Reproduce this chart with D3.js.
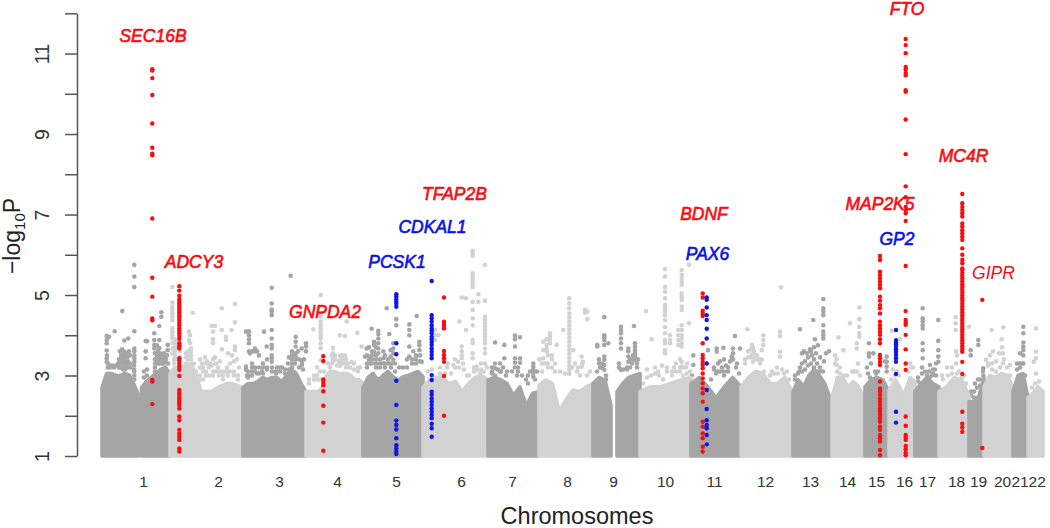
<!DOCTYPE html>
<html>
<head>
<meta charset="utf-8">
<script src="https://cdn.jsdelivr.net/npm/d3@7/dist/d3.min.js"></script>
<style>html,body{margin:0;padding:0;background:#fff;overflow:hidden}svg{display:block}text{font-family:"Liberation Sans",Arial,sans-serif}</style>
</head>
<body>
<svg id="c" width="1050" height="528"></svg>
<script>
// Genome position is in bins of roughly 3 Mb along the concatenated chromosomes.
const chromNames = ["1","2","3","4","5","6","7","8","9","10","11","12","13","14","15","16","17","18","19","20","21","22"];
const chromEnds = [68,141,204,261,321,386,437,491,538,589,639,690,729.5,762.5,787,813,837,867,882,911,926,941];
const chromLabelPos = [41,116,177,235,294,359,410,465,511,563,612,663,708,745,774,802,825,854,876,900,917.5,934.7];
const yTicks = [1,2,3,4,5,6,7,8,9,10,11,12];

// Solid lower band of each chromosome arm: upper edge readings (-log10 P)
const bandChrom = [1,1,2,3,4,5,6,7,8,9,9,10,11,12,13,14,15,16,16,17,18,19,20,21,22];
const bandStart = [0,39.5,68,141,204,261,321,386,437,491,515,538,589,639,691,730,763,787,803,813,837,867,882,911,926];
const bandEnd = [37,68,141,204,261,321,386,437,491,509,538,589,639,690,728,762,787,800,813,837,867,882,911,926,941];
const bandTops = [
 [2.7,3.05,3.05,3.0,3.0,3.05,3.0,2.75,2.5],
 [2.7,2.85,2.95,3.05,3.15,3.2,3.05],
 [3.05,3.2,3.2,3.25,3.3,3.0,2.6,2.6,2.6,2.7,2.75,2.8,2.8,2.75,2.7],
 [2.7,2.8,2.8,2.85,2.95,2.9,2.95,2.95,2.85,3.0,3.15,3.05,2.8,2.6],
 [2.6,2.6,2.6,2.6,2.7,3.0,3.1,3.1,3.05,3.05,3.05,3.0,2.9,2.9,2.8],
 [2.7,2.95,3.05,2.89,3.0,3.1,2.97,2.89,2.97,3.0,3.05,3.1,2.97],
 [2.7,2.89,2.95,2.95,2.8,2.85,2.6,2.8,2.95,3.0,2.89],
 [2.89,2.95,2.89,2.8,2.5,2.72,2.25,2.56,2.6],
 [2.75,2.89,2.8,2.1,2.4,2.64,2.6,2.72,2.8],
 [2.8,2.95,2.89,2.25],
 [2.6,2.8,2.95,3.0,3.05],
 [2.6,2.72,2.72,2.8,2.89,2.95],
 [2.8,2.95,2.72,2.45,2.72,2.95,2.72],
 [2.72,2.95,3.1,3.05,2.8,2.8,2.95,2.6],
 [2.6,2.89,2.72,3.0,3.15,3.0,2.8,2.45],
 [2.45,2.95,2.95,2.72,2.85,2.72,2.45],
 [2.72,2.89,2.95,2.89,2.6],
 [2.64,2.89,2.6],
 [2.6,2.95,2.85],
 [2.6,2.8,2.95,2.8,2.72],
 [2.6,2.72,2.95,2.89,2.5],
 [2.35,2.35,2.5,2.95],
 [2.72,3.0,2.95,3.05,3.0,2.72],
 [2.6,3.0,3.05,2.45],
 [2.45,2.56,2.72,2.6]
];

// Individual background SNPs above the band: [position, -log10 P]
const backgroundSnps = [
[32.3,5.75],[32.3,5.46],[32.3,5.2],[32.3,4.1],[32.3,3.67],[32.3,3.6],[32.3,3.5],[32.3,3.43],[32.3,3.34],[32.3,3.1],[32.3,3.0],[32.3,2.9],
[20.3,4.6],[12.7,4.1],[4.7,3.98],[4.7,3.88],[4.7,3.8],[4.7,3.62],[4.7,3.43],[4.7,3.34],[7,3.96],[26.3,3.92],[22.3,3.87],
[18,3.6],[20,3.65],[22,3.6],[24,3.55],[25,3.45],[26,3.35],[14,3.25],[16,3.3],[12,3.2],[10,3.25],[27,3.6],
[43.7,3.86],[43.7,3.6],[43.7,3.43],[45,3.85],[52.3,4.05],[52.3,3.88],[52.3,3.76],[52.3,3.67],[57.3,4.23],[57.3,3.88],[57.3,3.68],[57.3,3.47],[57.3,3.3],
[59.3,4.57],[59.3,4.46],[65.7,3.76],[65.7,3.63],[55,3.75],[56,3.6],[58,3.55],[60,3.4],[62,3.45],[63,3.35],[65,3.5],[66,3.3],
[70.3,5.2],[70.3,4.81],[70.3,4.7],[70.3,4.63],[70.3,4.55],[70.3,4.46],[70.3,4.38],[70.3,4.17],[70.3,4.09],[70.3,4.0],[70.3,3.92],[70.3,3.8],[70.3,3.67],[70.3,3.55],
[73,3.9],[73,3.8],[73,3.7],[73,3.6],[73,3.5],[87,4.09],[88,4.0],[87,3.88],[88,3.8],[89,3.67],[90.7,4.56],
[109.7,4.23],[113,4.23],[111,4.09],[111,3.9],[111,3.8],[119.7,4.67],[119.7,4.13],[124,3.96],[124,3.88],[133,4.78],[133,4.32],[133,3.72],[133,3.63],[129.7,4.13],
[98,3.4],[100,3.3],[103,3.45],[105,3.35],[108,3.3],[110,3.25],[113,3.45],[116,3.2],[118,3.35],[120,3.1],[123,3.1],[126,3.0],[130,3.5],[132,3.35],[135,3.4],[137,3.2],[126,3.55],[120,3.65],
[147,4.1],[147,4.0],[147,3.9],[147,3.8],[147,3.6],[148,3.55],[153,3.67],[153,3.6],[150,3.6],[155,3.6],[157,3.5],[144,4.09],[144,3.22],[144,3.14],[145,3.0],
[169.7,5.18],[169.7,4.79],[169.7,4.64],[169.7,4.59],[169.7,4.5],[169.7,4.13],[169.7,3.92],[169.7,3.76],[169.7,3.67],[169.7,3.5],[169.7,3.43],[169.7,3.34],
[162,4.09],[164.7,3.72],[188.7,5.48],[193.7,3.96],[193.7,3.84],[193.7,3.72],[193.7,3.55],[193.7,3.47],[204,3.8],[204,3.72],[204,3.6],[199.7,3.67],[199.7,3.38],[199.7,3.25],
[175,3.2],[178,3.1],[180,3.2],[183,3.15],[186,3.3],[190,3.4],[196,3.6],[200,3.3],[202,3.4],[160,3.1],[165,3.15],[150,3.0],[155,3.05],
[218.7,5.0],[218.7,4.54],[218.7,4.46],[218.7,4.34],[218.7,4.25],[218.7,4.17],[218.7,4.09],[218.7,4.0],[218.7,3.92],[218.7,3.8],[218.7,3.68],[218.7,3.38],
[211.3,4.15],[244.7,4.34],[238,4.0],[243,3.98],[231,3.68],[231,3.55],[231,3.43],[231,3.35],[238,3.5],[238,3.38],[238,3.25],[243,3.5],[243,3.3],
[255.3,4.06],[259.7,3.72],[249.7,3.34],[258,3.2],[252,3.3],[225,2.9],[228,3.2],[222,3.1],[235,3.25],[240,3.3],[246,3.3],
[284.7,4.67],[269.7,4.16],[276.3,4.11],[276.3,4.03],[276.3,3.92],[276.3,3.8],[276.3,3.67],[276.3,3.55],[287.3,4.03],[264.7,3.67],[272,3.84],[272,3.76],[272,3.59],[281.3,3.6],[281.3,3.43],[281.3,3.3],
[294.3,4.4],[294.3,4.25],[307.3,4.27],[307.3,4.13],[307.3,4.0],[314.7,4.48],[317.3,3.84],[317.3,3.75],[317.3,3.63],[307.3,3.72],[307.3,3.47],[311.3,3.6],[319.7,3.34],
[291.3,3.8],[291.3,3.67],[291.3,3.55],[291.3,3.39],[288.7,3.63],[288.7,3.47],[268,3.47],[268,3.3],[263,3.47],
[333,4.13],[333,4.0],[333,3.88],[336.3,4.0],[359.7,4.94],[364,4.92],[364,4.13],[357.3,4.34],
[370.7,6.1],[370.7,6.04],[370.7,5.97],[370.7,5.54],[370.7,5.46],[370.7,5.37],[370.7,5.29],[370.7,5.2],[370.7,4.83],[370.7,4.63],[370.7,4.42],[370.7,4.25],[370.7,3.88],[370.7,3.8],[370.7,3.55],[370.7,3.43],
[376.3,5.02],[376.3,4.83],[383,5.75],[383,4.86],[383,4.46],[383,4.38],[383,4.3],[383,4.21],[383,4.13],[383,4.05],[383,3.96],[383,3.88],[383,3.8],[383,3.67],[383,3.55],[383,3.3],
[359.7,3.72],[359.7,3.6],[359.7,3.5],[359.7,3.43],[351.3,3.26],[356,3.34],[374.7,3.22],[374.7,3.14],[345,3.2],[349,3.05],[362,3.15],[367,3.0],[378,3.05],[382,3.1],
[393,3.82],[393,3.3],[393,3.18],[402.3,3.76],[402.3,3.43],[413,3.99],[413,3.9],[413,3.72],[413,3.43],[413,3.32],[418,3.95],[418,3.43],[418,3.32],
[431.3,3.3],[431.3,3.22],[431.3,3.14],[431.3,3.05],[431.3,2.97],[437.3,3.4],[396,3.15],[399,3.1],[404,3.0],[415,3.0],[420,3.0],
[448,4.05],[448,3.96],[448,3.88],[448,3.8],[444.7,3.9],[444.7,3.76],[444.7,3.67],[444.7,3.6],[441.3,3.84],[441.3,3.63],[441.3,3.43],[454.7,3.76],[461.3,4.13],
[467.3,4.92],[467.3,4.79],[467.3,4.67],[467.3,4.54],[467.3,4.44],[467.3,4.34],[467.3,4.24],[467.3,4.14],[467.3,4.04],[467.3,3.94],[467.3,3.84],[467.3,3.74],[467.3,3.64],[467.3,3.54],[467.3,3.44],[467.3,3.34],[467.3,3.24],[467.3,3.14],[467.3,3.04],
[483,4.63],[483,4.56],[485.3,4.59],[485.3,4.4],[479.7,3.47],[479.7,3.22],[481,3.34],[471.3,3.63],[476,3.2],[480,3.3],[488,3.1],[473,3.3],
[502.3,4.45],[502.3,4.0],[502.3,3.95],[502.3,3.88],[502.3,3.76],[502.3,3.47],[502.3,3.39],[502.3,3.26],[502.3,3.14],[495.3,3.76],[495.3,3.72],[506.3,3.8],[498,3.2],[495,3.1],
[519,4.21],[519,4.13],[519,4.05],[519,3.92],[519,3.8],[519,3.67],[519,3.14],[532,4.23],[533,3.8],[533,3.72],[533,3.63],[533,3.55],[533,3.47],[533,3.39],[526.3,3.67],[526.3,3.6],[526.3,3.47],[526.3,3.34],[530,3.3],
[544,4.6],[549.7,3.9],[563,5.64],[563,5.46],[563,5.2],[563,5.08],[563,4.92],[563,4.75],[563,4.67],[563,4.59],[563,4.5],[563,4.38],[563,4.2],[563,4.05],[563,3.88],[563,3.8],[563,3.63],[563,3.55],
[568,4.0],[568,3.88],[568,3.8],[579.7,5.62],[579.7,5.5],[579.7,5.41],[579.7,5.33],[579.7,5.25],[579.7,5.04],[579.7,4.96],[579.7,4.88],[579.7,4.71],[579.7,4.63],[579.7,4.25],[579.7,4.13],[579.7,4.0],[579.7,3.92],[579.7,3.8],[579.7,3.72],[579.7,3.34],[579.7,3.22],
[576.3,4.13],[576.3,4.0],[576.3,3.88],[576.3,3.76],[587,5.75],[587,4.3],[591.3,3.5],[591.3,3.26],[545,3.15],[556,3.1],[560,3.25],[572,3.2],[584,3.2],[590,3.0],
[614.7,3.67],[614.7,3.59],[621.3,3.69],[633,3.98],[638,3.67],[631,3.67],[631,3.55],[629.7,3.47],[606,3.63],[612,3.2],[616,3.3],[620,3.2],[624,3.25],[628,3.35],[631,3.4],[635,3.3],[614,3.05],[609,2.9],
[679,5.19],[645.3,4.15],[661.3,4.0],[661.3,3.88],[661.3,3.76],[678,4.09],[678,3.98],[678,3.59],[678,3.47],[650,3.76],[651,3.68],[652,3.6],[650,3.52],[653,3.43],[651,3.34],[659.7,3.63],[659.7,3.39],[675,3.2],[670,3.1],[680,3.15],[685,3.1],
[698,4.15],[711.3,4.38],[721.3,4.9],[721.3,4.67],[721.3,4.59],[721.3,4.5],[721.3,4.25],[721.3,4.09],[721.3,4.0],[721.3,3.92],
[713,3.9],[712,3.7],[710,3.5],[714,3.55],[716,3.75],[718,3.45],[708,3.65],[705,3.55],[700,3.55],[702,3.6],[698,3.2],[696,3.05],[722,3.35],[724,3.55],[727,3.6],
[736.3,3.95],[748,4.3],[757.3,4.69],[757.3,4.4],[757.3,4.21],[757.3,4.05],[757.3,3.96],[741.3,3.63],[754.7,3.8],[754.7,3.67],[734.7,3.4],[734.7,3.26],[750,3.1],[756,3.3],[745,3.0],
[767,3.8],[767,3.55],[767,3.47],[771.3,3.55],[765,3.2],[769,3.3],[773,3.1],[783,3.35],[784.7,3.47],[784.7,3.34],[784.7,3.22],[784.7,3.1],
[789.7,4.11],[798,3.9],[791,3.15],[795,3.1],[797,3.0],[811,3.2],[808,3.3],
[820.7,4.67],[820.7,4.42],[820.7,4.34],[820.7,4.25],[820.7,4.17],[820.7,3.8],[820.7,3.63],[820.7,3.43],[836.3,4.38],[836.3,3.86],[836.3,3.63],[836.3,3.47],[836.3,3.34],[828,3.26],[828,2.97],[825,3.0],[830,3.0],[833,3.15],
[853.7,4.45],[853.7,4.3],[853.7,4.13],[854,3.6],[855,3.5],[854,3.3],[855,3.05],[845,3.2],[850,3.2],[840,3.0],[862,3.0],[867,4.21],
[876.3,3.88],[876.3,3.76],[868.7,3.63],[868.7,3.5],[884,3.39],[881.3,3.18],[881.3,3.0],[873,2.8],[876,2.9],
[889.7,4.13],[901.3,4.2],[899.7,3.9],[888,3.5],[891,3.6],[894,3.35],[897,3.55],[900,3.7],[902,3.4],[908,3.26],
[921.3,4.21],[921.3,4.05],[921.3,3.82],[921.3,3.72],[921.3,3.63],[921.3,3.5],[921.3,3.3],[918,3.55],
[934,4.17],[934,3.59],[934,3.43],[934,3.05],[931.7,3.34]
];

// Denser clumps just above the band, by position: [position, -log10 P values]
const edgeClumps = [
[5,[3.5]],[6,[3.3,3.2]],[8,[3.2]],[17,[3.4,3.3,3.2]],[19,[3.5,3.4,3.3,3.2]],[21,[3.5,3.4,3.3,3.15]],[23,[3.45,3.35,3.25,3.15]],[25,[3.3,3.2]],[28,[3.5,3.3,3.2]],[32,[3.25,3.15]],
[42,[3.1,2.95]],[45,[3.15,3.0]],[53,[3.55,3.4,3.3,3.2,3.1]],[55,[3.5,3.4,3.3]],[58,[3.4,3.3]],[60,[3.5,3.3]],[62,[3.55,3.3]],[64,[3.4]],
[72,[3.4,3.3]],[75,[3.8,3.7,3.4]],[78,[3.75,3.6,3.45]],[84,[3.55,3.45,3.3]],[86,[3.6,3.5,3.4]],[89,[3.6,3.5,3.4]],[92,[3.3]],[94,[3.1,3.0,2.9]],[98,[3.2,3.0,2.9]],[101,[3.2,3.1,2.9]],[104,[3.3,3.1,3.0]],[107,[3.2,3.0]],[111,[3.4,3.1,3.0]],[114,[3.3,3.1]],[117,[3.1,3.0]],[121,[3.0,2.9]],[125,[3.2,3.1]],[128,[3.3,3.1]],[132,[3.1,3.0]],[136,[3.0,2.9]],
[146,[3.1,3.0,2.95]],[150,[3.3,3.2,3.1]],[153,[3.2,3.1]],[157,[3.2,3.05]],[161,[3.3,3.2,3.05]],[165,[3.4,3.2]],[170,[3.2,3.1]],[174,[3.1,3.05]],[178,[3.2]],[183,[3.05]],[187,[3.45,3.15]],[190,[3.6,3.5,3.3,3.2]],[193,[3.4,3.3]],[197,[3.4,3.2]],[201,[3.15]],
[207,[2.9,2.8]],[212,[3.0,2.9]],[215,[3.2,3.0,2.9]],[218,[3.1,2.9]],[226,[3.3,3.0]],[230,[3.3,3.5]],[233,[3.5,3.4]],[237,[3.35,3.25]],[240,[3.5,3.4]],[244,[3.4,3.2]],[248,[3.2]],[252,[3.15]],[256,[3.2,3.1]],
[265,[3.5,3.3,3.2]],[267,[3.7,3.4]],[270,[3.6,3.5,3.4,3.3]],[274,[3.7,3.5,3.4,3.3,3.2]],[278,[3.4,3.3,3.2]],[283,[3.5,3.3,3.2]],[286,[3.4,3.3]],[289,[3.3,3.2]],[293,[3.3,3.1]],[297,[3.2]],[301,[3.2]],[305,[3.4,3.2]],[310,[3.4,3.3]],[314,[3.5,3.4,3.3]],[318,[3.5,3.35]],
[326,[3.1]],[330,[3.15]],[338,[3.2,3.05]],[343,[3.05]],[346,[3.3]],[353,[3.4,3.2]],[357,[3.2]],[361,[3.3]],[365,[3.0]],[372,[3.1,3.2]],[379,[3.15,3.3]],[385,[3.2]],
[390,[3.2,3.1,3.05]],[393,[3.0]],[398,[3.3,3.1]],[401,[3.2]],[405,[3.1]],[410,[3.1]],[413,[3.2]],[416,[3.2,3.1]],[424,[2.9]],[426,[3.0,2.8]],[428,[3.1]],[433,[2.9]],[435,[3.1]],
[440,[3.1,3.3]],[443,[3.3]],[446,[3.5,3.3,3.2]],[450,[3.5,3.4,3.2]],[453,[3.3,3.1]],[458,[3.1]],[463,[3.05]],[470,[3.2]],[475,[3.1]],[478,[3.0]],[485,[3.0]],
[497,[3.3,3.4]],[500,[3.3,3.2]],[504,[3.0,2.9]],[517,[3.3,3.2]],[521,[3.15]],[525,[3.2,3.15]],[528,[3.4,3.2]],[531,[3.5,3.4]],[535,[3.3,3.2]],[536,[3.4]],
[541,[2.8]],[545,[2.95]],[549,[3.0]],[553,[3.05,3.2]],[557,[3.0]],[561,[2.9]],[565,[3.2,3.1]],[570,[3.0,3.1]],[574,[3.3,3.1]],[578,[3.4,3.2,3.1]],[581,[3.2,3.0]],[585,[3.3,3.05]],[588,[3.1]],
[612,[3.15]],[615,[3.1]],[618,[3.35,3.1]],[622,[3.4,3.1,3.0]],[626,[3.2,3.1]],[630,[3.4]],[634,[3.2]],[637,[3.05]],
[643,[3.4,3.3]],[646,[3.6,3.45]],[649,[3.65,3.45]],[652,[3.55]],[655,[3.4,3.5]],[658,[3.3,3.4]],[662,[3.1]],[668,[3.0]],[672,[3.05]],[676,[3.05]],[682,[3.05]],[687,[2.9]],
[693,[3.0,2.9]],[697,[3.1]],[700,[3.3,3.1]],[703,[3.35,3.15]],[706,[3.45,3.25]],[709,[3.3,3.6]],[712,[3.4,3.2]],[715,[3.3,3.1]],[718,[3.2,3.1]],[721,[3.1]],
[733,[3.5,3.3]],[735,[3.1]],[738,[3.2,3.05]],[742,[3.0]],[752,[3.1]],[755,[3.1]],[758,[3.0]],
[766,[3.05]],[768,[2.95]],[774,[3.05]],[776,[3.1]],[789,[2.9]],[793,[3.0]],[806,[3.1]],[809,[3.2]],
[816,[2.95,2.85]],[820,[3.2,3.05]],[823,[3.1]],[827,[3.1,2.95]],[831,[3.05,3.15]],[834,[3.3,3.0]],
[841,[2.9]],[846,[3.0]],[850,[3.05]],[857,[3.1]],[860,[2.95]],[864,[2.8]],
[869,[2.6,2.5]],[872,[2.6,2.45]],[875,[2.7]],[878,[2.9,2.75]],[881,[3.1]],
[886,[3.25,3.3]],[890,[3.3,3.15]],[894,[3.1]],[898,[3.2]],[901,[3.55,3.3]],[905,[3.2]],[908,[3.0]],
[915,[3.15,3.3]],[918,[3.3,3.2]],[921,[3.3]],[923,[3.0]],[930,[2.7]],[933,[2.8]],[937,[2.85]]
];

// Highlighted gene columns: position, then -log10 P values
const sec16bPos = 50.3;
const sec16bP = [10.61,10.58,10.39,9.97,9.26,8.66,8.51,8.47,6.9,5.43,4.96,4.42,4.37,2.89,2.85,2.29];
const adcy3Pos = 77.3;
const adcy3P = [5.22,5.11,4.98,4.89,4.83,4.78,4.73,4.67,4.61,4.56,4.5,4.45,4.38,4.31,4.25,4.17,4.11,4.05,3.98,3.91,3.8,3.73,3.67,3.43,3.36,3.29,3.22,3.14,2.99,2.64,2.57,2.52,2.45,2.39,2.33,2.27,2.18,1.98,1.89,1.65,1.56,1.48,1.4,1.19,1.11];
const gnpda2Pos = 221.3;
const gnpda2P = [3.48,3.36,2.9,2.82,2.76,2.61,2.25,1.83,1.13];
const pcsk1Pos = 294.3;
const pcsk1P = [5.02,4.96,4.89,4.83,4.78,4.71,3.8,3.53,2.87,2.27,1.88,1.77,1.66,1.44,1.27,1.19,1.11,1.05];
const cdkal1Pos = 329.7;
const cdkal1P = [5.35,4.5,4.42,4.34,4.25,4.17,4.11,4.05,3.96,3.9,3.83,3.76,3.67,3.59,3.51,3.43,3.01,2.89,2.6,2.52,2.43,2.35,2.27,2.18,2.1,2.02,1.94,1.8,1.69,1.48];
const tfap2bPos = 342;
const tfap2bP = [4.94,4.34,4.28,4.23,4.17,3.61,3.51,3.43,3.34,2.99,2.0];
const bdnfPos = 600.7;
const bdnfP = [5.04,4.94,4.61,4.54,4.48,3.8,3.51,3.43,3.34,3.26,3.18,3.05,2.93,2.81,2.68,2.56,2.35,1.85,1.73,1.56,1.44,1.23,1.11];
const pax6Pos = 604.7;
const pax6P = [4.94,4.88,4.69,4.5,4.38,4.16,3.92,3.3,2.64,2.17,1.89,1.77,1.69,1.52,1.29];
const map2k5Pos = 778;
const map2k5P = [5.97,5.87,5.58,5.5,5.41,5.33,5.25,5.17,4.96,4.86,4.75,4.67,4.54,4.34,4.25,4.17,4.09,4.01,3.9,3.8,3.51,3.43,3.34,3.26,2.85,2.68,2.6,2.52,2.43,2.35,2.27,2.18,2.1,2.02,1.94,1.85,1.73,1.65,1.52,1.44,1.36,1.15,1.02];
const gp2Pos = 794;
const gp2P = [4.13,3.88,3.82,3.77,3.71,3.65,3.59,3.51,3.43,3.34,3.04,2.1,1.83];
const ftoPos = 803.7;
const ftoP = [11.36,11.21,11.01,10.67,10.61,10.52,10.46,10.09,10.05,9.36,8.5,7.7,7.43,7.19,7.09,7.03,6.84,5.72,4.6,4.38,4.31,4.26,4.01,3.65,3.3,3.14,1.98,1.75,1.52,1.46,1.4,1.25,1.17,1.08,1.02];
const mc4rPos = 860.3;
const mc4rP = [7.51,7.28,7.19,7.11,7.03,6.95,6.78,6.7,6.61,6.53,6.45,6.37,6.16,6.0,5.87,5.79,5.66,5.62,5.55,5.48,5.41,5.34,5.27,5.2,5.13,5.06,4.99,4.92,4.85,4.78,4.71,4.64,4.57,4.5,4.43,4.36,4.29,4.22,4.15,4.08,4.01,3.94,3.87,3.8,3.73,3.66,3.59,3.34,3.04,2.1,1.8,1.71,1.6];
const giprPos = 880.3;
const giprP = [4.88,1.2];

const redColumns = [[sec16bPos,sec16bP],[adcy3Pos,adcy3P],[gnpda2Pos,gnpda2P],[tfap2bPos,tfap2bP],[bdnfPos,bdnfP],[map2k5Pos,map2k5P],[ftoPos,ftoP],[mc4rPos,mc4rP],[giprPos,giprP]];
const blueColumns = [[pcsk1Pos,pcsk1P],[cdkal1Pos,cdkal1P],[pax6Pos,pax6P],[gp2Pos,gp2P]];

// Gene labels
const geneNames = ["SEC16B","ADCY3","GNPDA2","PCSK1","CDKAL1","TFAP2B","BDNF","PAX6","MAP2K5","GP2","FTO","MC4R","GIPR"];
const genePos = [51,92,223,295,330.5,352.5,602,605.5,778,795,805,861.5,891.5];
const geneLevel = [11.29,5.66,4.43,5.66,6.53,7.37,6.87,5.88,7.11,6.24,11.97,8.31,5.41];
const geneGroup = ["r","r","r","b","b","r","r","b","r","b","r","r","r"];

const RED = "#fb0a10", BLUE = "#0a14e6", DARK = "#a5a5a5", LIGHT = "#d2d2d2", AXIS = "#555555", INK = "#333333";

const svg = d3.select("#c");
const x = d3.scaleLinear().domain([0,941]).range([102,1043]);
const y = d3.scaleLinear().domain([1,12]).range([456,13.3]);

const defs = svg.append("defs");
defs.append("filter").attr("id","soft").append("feGaussianBlur").attr("stdDeviation",0.35);

const plot = svg.append("g").attr("filter","url(#soft)");
const chromOf = p => d3.bisectLeft(chromEnds, p) + 1;
const shade = n => n % 2 === 1 ? DARK : LIGHT;

const clumpSnps = edgeClumps.flatMap(c => c[1].map(v => [c[0], v]));
const allBackground = backgroundSnps.concat(clumpSnps);
plot.append("g").selectAll("circle").data(allBackground).join("circle")
  .attr("cx", d => x(d[0])).attr("cy", d => y(d[1])).attr("r", 2.3)
  .attr("fill", d => shade(chromOf(d[0])));

const area = d3.area().x(d => x(d.p)).y0(y(1)).y1(d => y(d.v));
bandTops.forEach((tops, i) => {
  const pos = d3.scaleLinear().domain([0, tops.length - 1]).range([bandStart[i], bandEnd[i]]);
  const pts = tops.map((v, k) => ({p: pos(k), v}));
  plot.append("path").datum(pts).attr("d", area)
    .attr("fill", shade(bandChrom[i])).attr("stroke", shade(bandChrom[i]))
    .attr("stroke-width", 3.6).attr("stroke-linejoin", "round");
});

function drawCols(cols, color) {
  const pts = cols.flatMap(c => c[1].map(v => [c[0], v]));
  plot.append("g").selectAll("circle").data(pts).join("circle")
    .attr("cx", d => x(d[0])).attr("cy", d => y(d[1])).attr("r", 2.2).attr("fill", color);
}
drawCols(redColumns, RED);
drawCols(blueColumns, BLUE);

// Y axis
const gy = svg.append("g").attr("transform", "translate(77,0)")
  .call(d3.axisLeft(y).tickValues(yTicks).tickSize(12).tickSizeOuter(0)
    .tickFormat(d => d % 2 === 1 ? String(d) : ""));
gy.selectAll("path,line").attr("stroke", AXIS).attr("stroke-width", 1.5);
gy.selectAll("text")
  .attr("x", 0).attr("y", 0).attr("dy", 0)
  .attr("transform", "translate(-28,0) rotate(-90)")
  .attr("text-anchor", "middle").attr("font-size", 19.5).attr("fill", INK);

// X axis labels
const gx = svg.append("g").attr("transform", "translate(0,456)")
  .call(d3.axisBottom(x).tickValues(chromLabelPos).tickSize(0)
    .tickFormat((d, i) => chromNames[i]));
gx.select(".domain").remove();
gx.selectAll("text").attr("y", 30.5).attr("dy", 0).attr("font-size", 15.5).attr("fill", INK);

// Titles
svg.append("text").attr("x", 577).attr("y", 524).attr("text-anchor", "middle")
  .attr("font-size", 23.5).attr("fill", "#222").text("Chromosomes");
const yt = svg.append("text").attr("transform", "translate(19.5,236) rotate(-90)")
  .attr("text-anchor", "middle").attr("font-size", 23).attr("fill", "#222");
yt.append("tspan").text("\u2212log");
yt.append("tspan").attr("font-size", 15).attr("dy", 5).text("10");
yt.append("tspan").attr("dy", -5).text("P");

// Gene labels
svg.append("g").selectAll("text").data(geneNames).join("text")
  .attr("x", (d, i) => x(genePos[i])).attr("y", (d, i) => y(geneLevel[i]))
  .attr("text-anchor", "middle").attr("font-size", 17.5).attr("font-style", "italic")
  .attr("fill", (d, i) => geneGroup[i] === "r" ? RED : BLUE)
  .attr("stroke", (d, i) => geneGroup[i] === "r" ? RED : BLUE)
  .attr("stroke-width", d => d === "GIPR" ? 0 : 0.6)
  .text(d => d);
</script>
</body>
</html>
